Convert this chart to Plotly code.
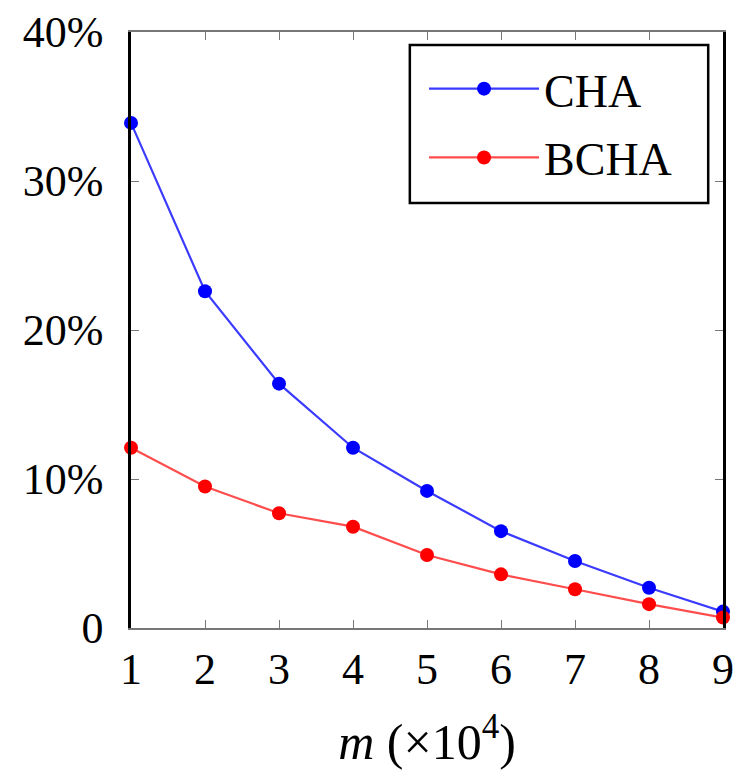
import plotly.graph_objects as go

x_vals = [1, 2, 3, 4, 5, 6, 7, 8, 9]
cha = [33.9, 22.6, 16.4, 12.1, 9.2, 6.5, 4.5, 2.7, 1.1]
bcha = [12.1, 9.5, 7.7, 6.8, 4.9, 3.6, 2.6, 1.6, 0.7]
y_tickvals = [0, 10, 20, 30, 40]
y_ticktext = ["0", "10%", "20%", "30%", "40%"]

fig = go.Figure()
fig.add_trace(go.Scatter(x=x_vals, y=cha, name="CHA", mode="lines+markers",
                         legendgroup="a",
                         line=dict(color="#3b3bff", width=2.2),
                         marker=dict(color="#0000ff", size=14), cliponaxis=False))
fig.add_trace(go.Scatter(x=x_vals, y=bcha, name="BCHA", mode="lines+markers",
                         legendgroup="b",
                         line=dict(color="#ff4d4d", width=2.2),
                         marker=dict(color="#ff0000", size=14), cliponaxis=False))

font_family = "Liberation Serif, DejaVu Serif, serif"
fig.update_layout(
    width=738, height=784,
    margin=dict(l=131, r=15, t=32, b=156, autoexpand=False),
    paper_bgcolor="white", plot_bgcolor="white",
    font=dict(family=font_family, size=44, color="black"),
    showlegend=True,
    legend=dict(x=0.495, y=0.966, xanchor="left", yanchor="top",
                borderwidth=0, bgcolor="rgba(0,0,0,0)",
                font=dict(size=46), itemwidth=110, tracegroupgap=6),
    xaxis=dict(range=[1, 9], tickvals=x_vals, ticks="inside", ticklen=8,
               tickcolor="#777", showline=True, linecolor="#777", linewidth=2,
               mirror="ticks", showgrid=False, zeroline=False, automargin=False,
               ticklabelstandoff=1,
               title=dict(text="<i>m</i> (×10<sup>4</sup>)", standoff=31,
                          font=dict(size=50))),
    yaxis=dict(range=[0, 40], tickvals=y_tickvals, ticktext=y_ticktext,
               ticks="inside", ticklen=8, tickcolor="#777", automargin=False,
               showline=True, linecolor="black", linewidth=2.5,
               ticklabelstandoff=16,
               mirror="ticks", showgrid=False, zeroline=False),
    shapes=[dict(type="rect", xref="paper", yref="paper",
                 x0=0.471, x1=0.975, y0=0.713, y1=0.978,
                 line=dict(color="black", width=2.5), fillcolor="white",
                 layer="below")],
)

fig.write_html("out.html", config={"displayModeBar": False},
               post_script="document.body.style.margin='0px';")
